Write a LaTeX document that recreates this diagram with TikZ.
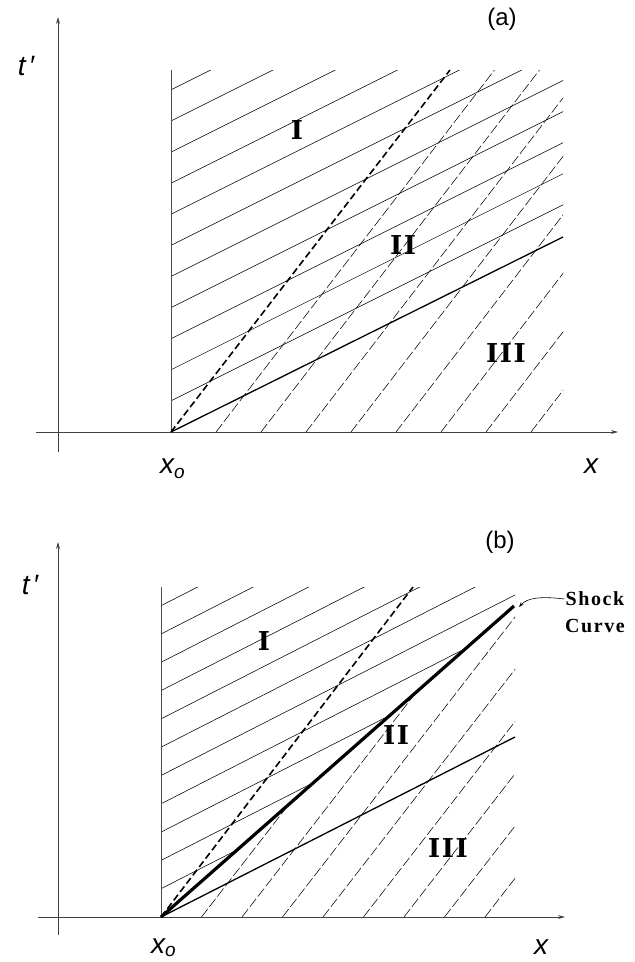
\documentclass[tikz,border=0pt]{standalone}
\usepackage{fontspec}
\newfontfamily\lsans{Liberation Sans}
\newfontfamily\romfont[LetterSpace=6]{DejaVu Serif}
\newfontfamily\shockfont[LetterSpace=8]{Liberation Serif}
\usetikzlibrary{arrows.meta}
\begin{document}
\begin{tikzpicture}[x=1pt,y=-1pt,
  axis/.style={line width=0.8pt, draw=black!75},
  axarrow/.style={-{Stealth[length=7pt,width=4pt]}},
  bound/.style={line width=0.8pt, draw=black!70},
  thinline/.style={line width=0.55pt},
  thindash/.style={line width=0.55pt, dash pattern=on 10pt off 3pt},
  thickdash/.style={line width=1.6pt, dash pattern=on 7pt off 3.5pt},
  fanline/.style={line width=1.3pt},
  shockline/.style={line width=3.2pt},
  region/.style={font=\romfont\bfseries\fontsize{26}{26}\selectfont, inner sep=0pt},
  axlabel/.style={font=\lsans\itshape\fontsize{28}{28}\selectfont, inner sep=0pt},
  panel/.style={font=\lsans\fontsize{24}{24}\selectfont, inner sep=0pt},
  shocklbl/.style={font=\shockfont\bfseries\fontsize{20}{20}\selectfont, inner sep=1pt},
]
\useasboundingbox (0,0) rectangle (635,962);

% ---------------- panel (a) ----------------
\coordinate (aYb) at (58,452);
\coordinate (aYt) at (58,17);
\coordinate (aXl) at (36,432);
\coordinate (aXr) at (618,432);
\coordinate (aO) at (171,432);
\coordinate (aTop) at (171,70);
\coordinate (aFan) at (563,237);
\coordinate (aDash) at (450,70);

\draw[axis,axarrow] (aYb) -- (aYt);
\draw[axis,axarrow] (aXl) -- (aXr);

\begin{scope}
  \clip (171,70) rectangle (563,432);
  \foreach \k in {1,...,11}
    \draw[thinline] (171,{432-31.1*\k}) -- ++(500,-250);
  \foreach \k in {1,...,8}
    \draw[thindash] ({171+45*\k},432) -- ++(300,-390);
\end{scope}

\draw[bound] (aTop) -- (aO);
\draw[fanline] (aO) -- (aFan);
\draw[thickdash] (aO) -- (aDash);

\node[panel] (pa) at (502,19) {(a)};
\node[axlabel] (ta) at (26,66) {t\kern3pt′};
\node[axlabel, anchor=base west] (xoa) at (160,473) {x\raisebox{-5pt}{\fontsize{19}{19}\selectfont o}};
\node[axlabel, anchor=base west] (xa) at (584,473) {x};
\node[region] (r1a) at (297,130) {I};
\node[region] (r2a) at (403,245) {II};
\node[region] (r3a) at (506,353) {III};

% ---------------- panel (b) ----------------
\coordinate (bYb) at (58,935);
\coordinate (bYt) at (58,542);
\coordinate (bXl) at (38,917);
\coordinate (bXr) at (565,917);
\coordinate (bO) at (161,917);
\coordinate (bTop) at (161,587);
\coordinate (bFan) at (515,737);
\coordinate (bDash) at (413,587);
\coordinate (bShock) at (514,606);
\coordinate (sTip) at (519,607);

\draw[axis,axarrow] (bYb) -- (bYt);
\draw[axis,axarrow] (bXl) -- (bXr);

\begin{scope}
  \clip (161,917) -- (161,587) -- (515,587) -- (515,605) -- cycle;
  \foreach \k in {1,...,11}
    \draw[thinline] (161,{917-28.3*\k}) -- ++(500,-255);
\end{scope}
\begin{scope}
  \clip (161,917) -- (515,605) -- (515,917) -- cycle;
  \foreach \k in {1,...,8}
    \draw[thindash] ({161+40.5*\k},917) -- ++(300,-387);
\end{scope}

\draw[bound] (bTop) -- (bO);
\draw[fanline] (bO) -- (bFan);
\draw[thickdash] (bO) -- (bDash);
\draw[shockline] (bO) -- (bShock);

\node[panel] (pb) at (500,542) {(b)};
\node[axlabel] (tb) at (30,585) {t\kern3pt′};
\node[axlabel, anchor=base west] (xob) at (151,953) {x\raisebox{-3pt}{\fontsize{19}{19}\selectfont o}};
\node[axlabel, anchor=base west] (xb) at (534,954) {x};
\node[region] (r1b) at (264,641) {I};
\node[region] (r2b) at (396,735) {II};
\node[region] (r3b) at (448,848) {III};

\node[shocklbl] (shk) at (595,599) {Shock};
\node[shocklbl] (crv) at (595,626) {Curve};
\draw[line width=0.6pt, -{Stealth[length=5pt,width=3.5pt]}] (shk.west) .. controls (540,596) and (527,598) .. (sTip);
\end{tikzpicture}
\end{document}
